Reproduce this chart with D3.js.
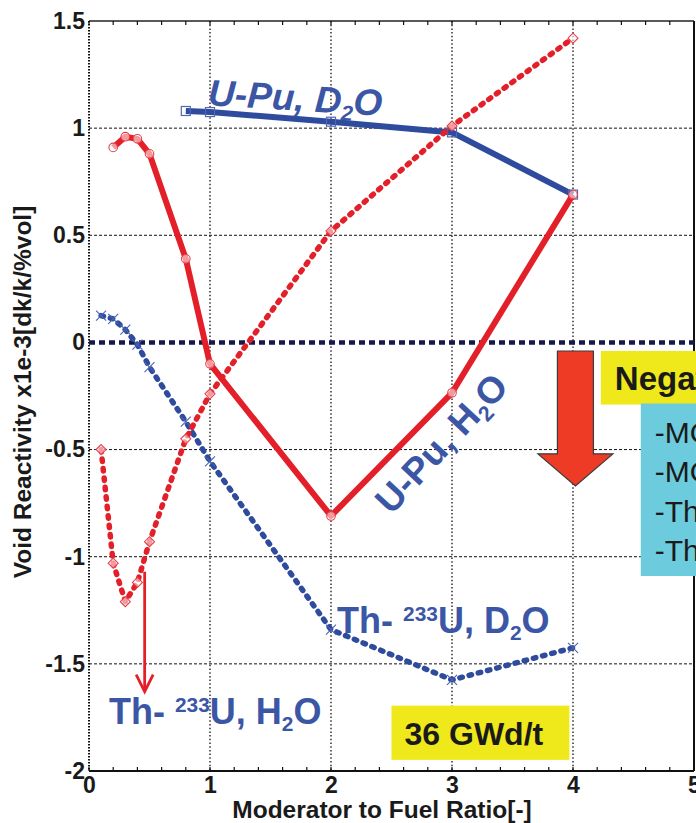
<!DOCTYPE html>
<html>
<head>
<meta charset="utf-8">
<script src="https://cdn.jsdelivr.net/npm/d3@7"></script>
<style>
  html, body { margin: 0; padding: 0; background: #fff; overflow: hidden; }
  svg { display: block; font-family: "Liberation Sans", Arial, Helvetica, sans-serif; }
</style>
</head>
<body>
<svg id="chart" width="696" height="823"></svg>
<script>
// Void reactivity vs moderator-to-fuel ratio, 36 GWd/t
const xTickValues = [0, 1, 2, 3, 4, 5];
const xTickLabels = ["0", "1", "2", "3", "4", "5"];
const yTickValues = [-2, -1.5, -1, -0.5, 0, 0.5, 1, 1.5];
const yTickLabels = ["-2", "-1.5", "-1", "-0.5", "0", "0.5", "1", "1.5"];

// U-Pu fuel, heavy water
const ratioUPuD2O = [0.8, 1, 2, 3, 4];
const voidUPuD2O = [1.08, 1.075, 1.03, 0.98, 0.69];
// U-Pu fuel, light water
const ratioUPuH2O = [0.2, 0.3, 0.4, 0.5, 0.8, 1, 2, 3, 4];
const voidUPuH2O = [0.91, 0.96, 0.95, 0.88, 0.39, -0.10, -0.81, -0.235, 0.69];
// Th-233U fuel, heavy water
const ratioThD2O = [0.1, 0.2, 0.3, 0.4, 0.5, 0.8, 1, 2, 3, 4];
const voidThD2O = [0.125, 0.11, 0.06, -0.01, -0.115, -0.37, -0.555, -1.34, -1.575, -1.425];
// Th-233U fuel, light water
const ratioThH2O = [0.1, 0.2, 0.3, 0.4, 0.5, 0.8, 1, 2, 3, 4];
const voidThH2O = [-0.5, -1.03, -1.21, -1.12, -0.93, -0.45, -0.24, 0.52, 1.01, 1.42];

const negativeItems = ["-MOX, H\u2082O", "-MOX, D\u2082O", "-Th-\u00b2\u00b3\u00b3U, H\u2082O", "-Th-\u00b2\u00b3\u00b3U, D\u2082O"];

const W = 696, H = 823;
const margin = { top: 21, right: 2, bottom: 52, left: 89 };
const svg = d3.select("#chart");

const x = d3.scaleLinear().domain([0, 5]).range([margin.left, W - margin.right]);
const y = d3.scaleLinear().domain([-2, 1.5]).range([H - margin.bottom, margin.top]);

const RED = "#e3202a", BLUE = "#2f4b9e", LABEL = "#3c56a6", NAVY = "#161a4a";

// grid
const grid = svg.append("g");
grid.selectAll("line.v").data([1, 2, 3, 4]).join("line")
  .attr("x1", d => x(d)).attr("x2", d => x(d))
  .attr("y1", y(1.5)).attr("y2", y(-2))
  .attr("stroke", "#111").attr("stroke-width", 1.3).attr("stroke-dasharray", "1.5,2.2");
grid.selectAll("line.h").data([-1.5, -1, -0.5, 0.5, 1]).join("line")
  .attr("x1", x(0)).attr("x2", x(5))
  .attr("y1", d => y(d)).attr("y2", d => y(d))
  .attr("stroke", "#111").attr("stroke-width", 1).attr("stroke-dasharray", "3,2");

// frame
svg.append("line").attr("x1", x(0)).attr("x2", x(5)).attr("y1", y(1.5)).attr("y2", y(1.5))
  .attr("stroke", "#222").attr("stroke-width", 1.6);
svg.append("line").attr("x1", x(0)).attr("x2", x(5)).attr("y1", y(-2)).attr("y2", y(-2))
  .attr("stroke", "#111").attr("stroke-width", 2);
svg.append("line").attr("x1", x(5)).attr("x2", x(5)).attr("y1", y(1.5)).attr("y2", y(-2))
  .attr("stroke", "#111").attr("stroke-width", 2);
svg.append("line").attr("x1", x(0)).attr("x2", x(0)).attr("y1", y(1.5)).attr("y2", y(-2))
  .attr("stroke", "#111").attr("stroke-width", 2).attr("stroke-dasharray", "1.5,1.5");

// minor ticks along top and bottom
const minor = d3.range(0, 5.01, 0.2);
svg.append("g").selectAll("line").data(minor).join("line")
  .attr("x1", d => x(d)).attr("x2", d => x(d))
  .attr("y1", y(-2)).attr("y2", y(-2) - 4)
  .attr("stroke", "#111").attr("stroke-width", 1.2);
svg.append("g").selectAll("line").data(minor).join("line")
  .attr("x1", d => x(d)).attr("x2", d => x(d))
  .attr("y1", y(1.5)).attr("y2", y(1.5) + 4)
  .attr("stroke", "#111").attr("stroke-width", 1.2);

// axes labels via d3 axes
const yAxis = d3.axisLeft(y).tickValues(yTickValues)
  .tickFormat((d, i) => yTickLabels[i]).tickSize(0).tickPadding(4);
const gy = svg.append("g").attr("transform", `translate(${margin.left},0)`).call(yAxis);
gy.select(".domain").remove();
gy.selectAll("text").attr("font-size", 23).attr("font-weight", "bold")
  .attr("fill", "#1a1a1a").attr("font-family", "Liberation Sans, Arial, sans-serif");

const xAxis = d3.axisBottom(x).tickValues(xTickValues)
  .tickFormat((d, i) => xTickLabels[i]).tickSize(0).tickPadding(6);
const gx = svg.append("g").attr("transform", `translate(0,${H - margin.bottom})`).call(xAxis);
gx.select(".domain").remove();
gx.selectAll("text").attr("font-size", 23).attr("font-weight", "bold")
  .attr("fill", "#1a1a1a").attr("font-family", "Liberation Sans, Arial, sans-serif");

svg.append("text").attr("x", 382).attr("y", 818).attr("text-anchor", "middle")
  .attr("font-size", 24.5).attr("font-weight", "bold").attr("fill", "#1a1a1a")
  .text("Moderator to Fuel Ratio[-]");
svg.append("text").attr("transform", "translate(31,392) rotate(-90)").attr("text-anchor", "middle")
  .attr("font-size", 24.5).attr("font-weight", "bold").attr("fill", "#1a1a1a")
  .text("Void Reactivity x1e-3[dk/k/%vol]");

// zero reference line
svg.append("line").attr("x1", x(0)).attr("x2", x(5)).attr("y1", y(0)).attr("y2", y(0))
  .attr("stroke", NAVY).attr("stroke-width", 4.5).attr("stroke-dasharray", "6,4");

const line = d3.line().x(d => x(d[0])).y(d => y(d[1]));
const zipPts = (xs, ys) => xs.map((v, i) => [v, ys[i]]);

const ptsUPuD2O = zipPts(ratioUPuD2O, voidUPuD2O);
const ptsUPuH2O = zipPts(ratioUPuH2O, voidUPuH2O);
const ptsThD2O = zipPts(ratioThD2O, voidThD2O);
const ptsThH2O = zipPts(ratioThH2O, voidThH2O);

// U-Pu, D2O: solid blue with squares
svg.append("path").datum(ptsUPuD2O).attr("d", line).attr("fill", "none")
  .attr("stroke", BLUE).attr("stroke-width", 6).attr("stroke-linejoin", "round");
svg.append("g").selectAll("rect").data(ptsUPuD2O).join("rect")
  .attr("x", d => x(d[0]) - 4.5).attr("y", d => y(d[1]) - 4.5)
  .attr("width", 9).attr("height", 9).attr("fill", "none")
  .attr("stroke", "#5068b4").attr("stroke-width", 1.2);

// Th-233U, D2O: dotted blue with x marks
svg.append("path").datum(ptsThD2O).attr("d", line).attr("fill", "none")
  .attr("stroke", BLUE).attr("stroke-width", 5.5).attr("stroke-linecap", "round")
  .attr("stroke-dasharray", "2.5,7");
svg.append("g").selectAll("path").data(ptsThD2O).join("path")
  .attr("d", "M-5,-5L5,5M5,-5L-5,5")
  .attr("transform", d => `translate(${x(d[0])},${y(d[1])})`)
  .attr("fill", "none").attr("stroke", "#4a64b2").attr("stroke-width", 1.1);

// Th-233U, H2O: dotted red with diamonds
svg.append("path").datum(ptsThH2O).attr("d", line).attr("fill", "none")
  .attr("stroke", RED).attr("stroke-width", 5.5).attr("stroke-linecap", "round")
  .attr("stroke-dasharray", "2.5,7");
svg.append("g").selectAll("path").data(ptsThH2O).join("path")
  .attr("d", "M0,-5L5,0L0,5L-5,0Z")
  .attr("transform", d => `translate(${x(d[0])},${y(d[1])})`)
  .attr("fill", "rgba(255,255,255,0.55)").attr("stroke", "#e8404a").attr("stroke-width", 1.1);

// U-Pu, H2O: solid red with circles
svg.append("path").datum(ptsUPuH2O).attr("d", line).attr("fill", "none")
  .attr("stroke", RED).attr("stroke-width", 6).attr("stroke-linejoin", "round");
svg.append("g").selectAll("circle").data(ptsUPuH2O).join("circle")
  .attr("cx", d => x(d[0])).attr("cy", d => y(d[1])).attr("r", 4.3)
  .attr("fill", "rgba(255,255,255,0.55)").attr("stroke", "#e8404a").attr("stroke-width", 1.1);

// series labels with sub/superscripts
function richLabel(parent, parts, size, color, italic) {
  const t = parent.append("text").attr("font-size", size).attr("font-weight", "bold")
    .attr("fill", color).attr("font-style", italic ? "italic" : "normal");
  parts.forEach(p => {
    const s = t.append("tspan").text(p.t);
    if (p.sup) s.attr("font-size", size * 0.58).attr("dy", -12);
    else if (p.sub) s.attr("font-size", size * 0.58).attr("dy", p.shift || 7);
    if (p.back) s.attr("dy", p.back);
  });
  return t;
}

richLabel(svg.append("g").attr("transform", `translate(${x(0.98)},${y(1.107)}) rotate(3.5)`),
  [{ t: "U-Pu, D" }, { t: "2", sub: true }, { t: "O", back: -7 }], 37, LABEL, true);

richLabel(svg.append("g").attr("transform", `translate(${x(2.91)},${y(-0.47)}) rotate(-47)`),
  [{ t: "U-Pu, H" }, { t: "2", sub: true }, { t: "O", back: -7 }], 37, LABEL, false)
  .attr("text-anchor", "middle").attr("dy", "0.35em");

richLabel(svg.append("g").attr("transform", `translate(${x(2.05)},${y(-1.355)})`),
  [{ t: "Th- " }, { t: "233", sup: true }, { t: "U, D", back: 12 }, { t: "2", sub: true }, { t: "O", back: -7 }], 36, LABEL, false);

richLabel(svg.append("g").attr("transform", `translate(${x(0.165)},${y(-1.78)})`),
  [{ t: "Th- " }, { t: "233", sup: true }, { t: "U, H", back: 12 }, { t: "2", sub: true }, { t: "O", back: -7 }], 36, LABEL, false);

// pointer from the Th-233U, H2O curve to its label
const ptrX = 0.46, ptrTop = -1.07, ptrTip = -1.63;
svg.append("line").attr("x1", x(ptrX)).attr("x2", x(ptrX))
  .attr("y1", y(ptrTop)).attr("y2", y(ptrTip) - 1)
  .attr("stroke", RED).attr("stroke-width", 2.8);
svg.append("path")
  .attr("d", `M${x(ptrX) - 8.5},${y(ptrTip) - 17}L${x(ptrX)},${y(ptrTip)}L${x(ptrX) + 8.5},${y(ptrTip) - 17}`)
  .attr("fill", "none").attr("stroke", RED).attr("stroke-width", 2.8);

// negative-region block arrow
const arrowX = 4.02, arrowTop = -0.04, arrowNeck = -0.52, arrowTip = -0.67;
const ax = x(arrowX), shaft = 18, wing = 37.5;
svg.append("path")
  .attr("d", `M${ax - shaft},${y(arrowTop)}L${ax + shaft},${y(arrowTop)}L${ax + shaft},${y(arrowNeck)}` +
    `L${ax + wing},${y(arrowNeck)}L${ax},${y(arrowTip)}L${ax - wing},${y(arrowNeck)}` +
    `L${ax - shaft},${y(arrowNeck)}Z`)
  .attr("fill", "#ee3b26").attr("stroke", "#3a3a3a").attr("stroke-width", 1.2);

// "Negative" heading box (runs past the right edge of the page)
svg.append("rect").attr("x", x(4.23)).attr("y", y(-0.04)).attr("width", 200).attr("height", y(-0.29) - y(-0.04))
  .attr("fill", "#efe81b");
svg.append("text").attr("x", x(4.23) + 14).attr("y", y(-0.04) + 39)
  .attr("font-size", 33).attr("font-weight", "bold").attr("fill", "#1a1a1a")
  .text("Negative void reactivity");

// list box
svg.append("rect").attr("x", x(4.56)).attr("y", y(-0.285)).attr("width", 200).attr("height", y(-1.09) - y(-0.285))
  .attr("fill", "#6ccbdc");
svg.append("g").selectAll("text").data(negativeItems).join("text")
  .attr("x", x(4.56) + 14).attr("y", (d, i) => y(-0.285) + 39 + i * 39.5)
  .attr("font-size", 30).attr("fill", "#1a1a1a").text(d => d);

// burnup tag
svg.append("rect").attr("x", x(2.5)).attr("y", y(-1.695)).attr("width", x(3.97) - x(2.5)).attr("height", y(-1.948) - y(-1.695))
  .attr("fill", "#efe81b");
svg.append("text").attr("x", x(2.5) + 13).attr("y", y(-1.695) + 39)
  .attr("font-size", 32).attr("font-weight", "bold").attr("fill", "#1a1a1a").text("36 GWd/t");
</script>
</body>
</html>
